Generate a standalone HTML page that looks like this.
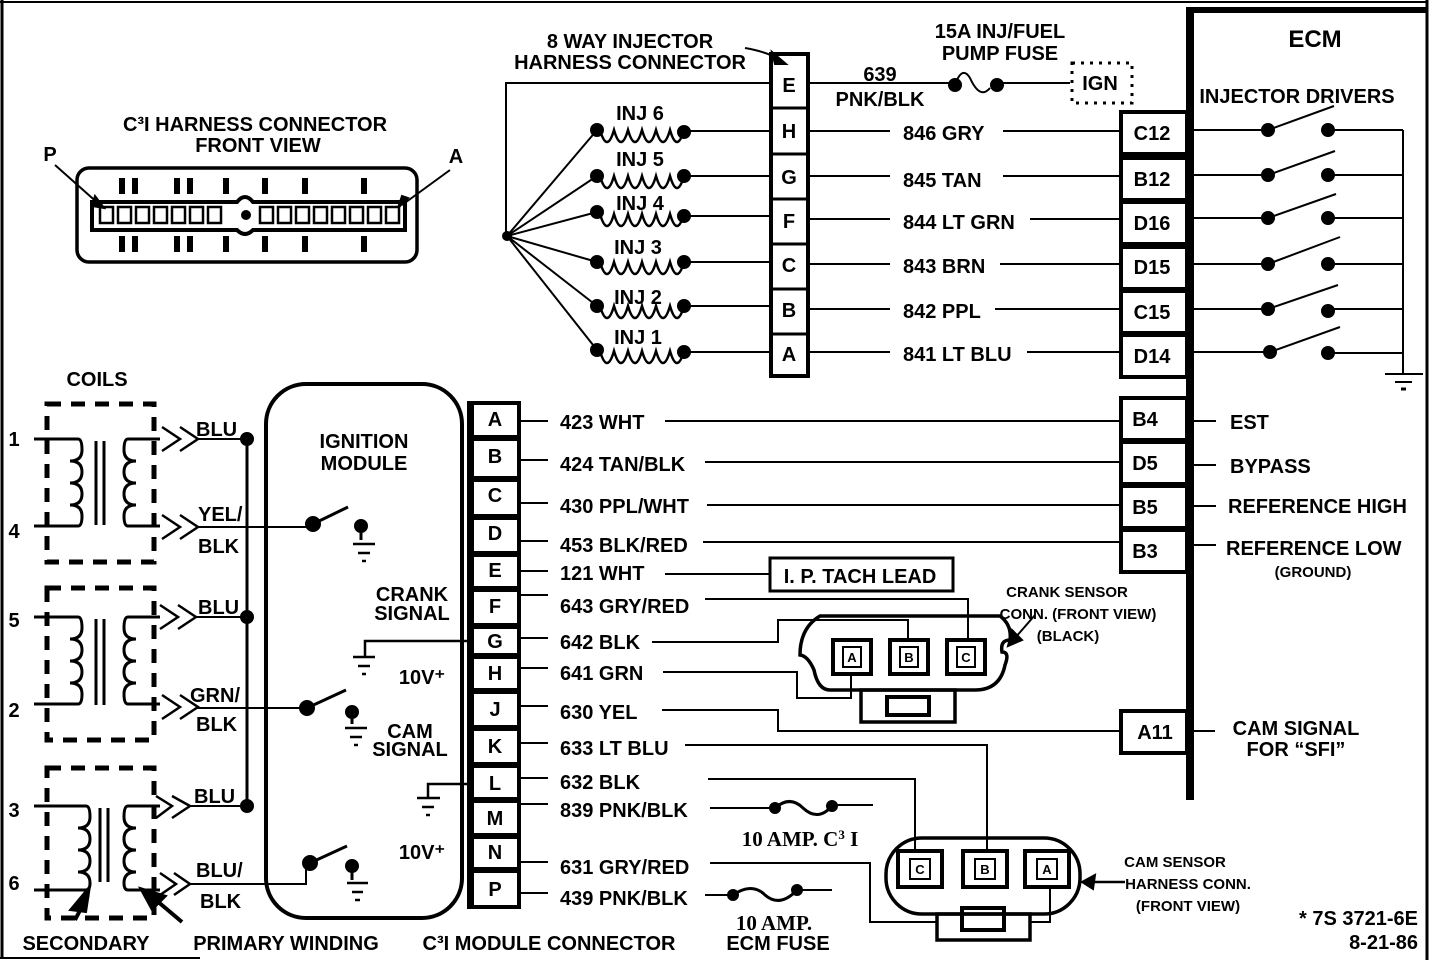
<!DOCTYPE html>
<html><head><meta charset="utf-8"><style>
html,body{margin:0;padding:0;background:#fff}
svg{display:block}
text{font-family:"Liberation Sans Narrow","Liberation Sans",sans-serif;font-weight:bold;fill:#000}
.t{font-size:20px}
.s{font-size:15px}
.c{text-anchor:middle}
.sr{font-family:"Liberation Serif",serif}
</style></head><body>
<svg width="1440" height="960" viewBox="0 0 1440 960" xmlns="http://www.w3.org/2000/svg" stroke="#000" fill="none" stroke-width="2">
<!-- frame -->
<line x1="2" y1="0" x2="2" y2="958" stroke-width="3"/>
<line x1="0" y1="2" x2="1428" y2="2" stroke-width="2"/>
<line x1="1427" y1="0" x2="1427" y2="960" stroke-width="3"/>
<line x1="0" y1="958" x2="200" y2="958" stroke-width="2"/>

<!-- C3I harness connector -->
<g stroke="none">
<text x="255" y="131" class="t c">C³I HARNESS CONNECTOR</text>
<text x="258" y="152" class="t c">FRONT  VIEW</text>
<text x="50" y="161" class="t c">P</text>
<text x="456" y="163" class="t c">A</text>
</g>
<rect x="77" y="168" width="340" height="94" rx="12" stroke-width="3.5"/>
<path d="M92 202 H237 Q245 192 253 202 H405 V230 H253 Q245 238 237 230 H92 Z" stroke-width="4"/>
<g stroke-width="2.5">
<rect x="100" y="207" width="13" height="16"/><rect x="118" y="207" width="13" height="16"/><rect x="136" y="207" width="13" height="16"/><rect x="154" y="207" width="13" height="16"/><rect x="172" y="207" width="13" height="16"/><rect x="190" y="207" width="13" height="16"/><rect x="208" y="207" width="13" height="16"/>
<rect x="260" y="207" width="13" height="16"/><rect x="278" y="207" width="13" height="16"/><rect x="296" y="207" width="13" height="16"/><rect x="314" y="207" width="13" height="16"/><rect x="332" y="207" width="13" height="16"/><rect x="350" y="207" width="13" height="16"/><rect x="368" y="207" width="13" height="16"/><rect x="386" y="207" width="13" height="16"/>
</g>
<circle cx="246" cy="215" r="4" fill="#000"/>
<g stroke-width="6">
<line x1="122" y1="178" x2="122" y2="194"/><line x1="135" y1="178" x2="135" y2="194"/>
<line x1="177" y1="178" x2="177" y2="194"/><line x1="190" y1="178" x2="190" y2="194"/>
<line x1="226" y1="178" x2="226" y2="194"/><line x1="265" y1="178" x2="265" y2="194"/>
<line x1="305" y1="178" x2="305" y2="194"/><line x1="364" y1="178" x2="364" y2="194"/>
<line x1="122" y1="236" x2="122" y2="252"/><line x1="135" y1="236" x2="135" y2="252"/>
<line x1="177" y1="236" x2="177" y2="252"/><line x1="190" y1="236" x2="190" y2="252"/>
<line x1="226" y1="236" x2="226" y2="252"/><line x1="265" y1="236" x2="265" y2="252"/>
<line x1="305" y1="236" x2="305" y2="252"/><line x1="364" y1="236" x2="364" y2="252"/>
</g>
<line x1="55" y1="165" x2="100" y2="205" stroke-width="2"/>
<path d="M95 196 L104 208 L92 206 Z" fill="#000"/>
<line x1="450" y1="170" x2="402" y2="205"/>
<path d="M408 198 L398 208 L402 196 Z" fill="#000"/>

<!-- injector harness -->
<g stroke="none">
<text x="630" y="48" class="t c">8 WAY INJECTOR</text>
<text x="630" y="69" class="t c">HARNESS CONNECTOR</text>
</g>
<path d="M745 48 Q768 52 780 60" stroke-width="2"/>
<path d="M772 52 L786 64 L775 64 Z" fill="#000"/>
<rect x="771" y="54" width="37" height="322" stroke-width="4"/>
<g stroke-width="3">
<line x1="771" y1="108" x2="808" y2="108"/><line x1="771" y1="154" x2="808" y2="154"/>
<line x1="771" y1="199" x2="808" y2="199"/><line x1="771" y1="244" x2="808" y2="244"/>
<line x1="771" y1="289" x2="808" y2="289"/><line x1="771" y1="334" x2="808" y2="334"/>
</g>
<g stroke="none" class="t">
<text x="789" y="92" class="t c">E</text><text x="789" y="138" class="t c">H</text><text x="789" y="184" class="t c">G</text>
<text x="789" y="228" class="t c">F</text><text x="789" y="272" class="t c">C</text><text x="789" y="317" class="t c">B</text><text x="789" y="361" class="t c">A</text>
</g>
<polyline points="770,83 506,83 506,236"/>
<line x1="808" y1="83" x2="953" y2="83"/>
<circle cx="955" cy="85" r="6" fill="#000"/>
<path d="M955 85 Q962 65 970 78 Q980 100 990 88"/>
<circle cx="997" cy="85" r="6" fill="#000"/>
<line x1="997" y1="83" x2="1070" y2="83"/>
<rect x="1072" y="63" width="60" height="40" stroke-dasharray="3 6" stroke-width="3"/>
<g stroke="none">
<text x="880" y="81" class="t c">639</text>
<text x="880" y="106" class="t c">PNK/BLK</text>
<text x="1000" y="38" class="t c">15A INJ/FUEL</text>
<text x="1000" y="60" class="t c">PUMP FUSE</text>
<text x="1100" y="90" class="t c">IGN</text>
</g>

<!-- injector rows -->
<g>
<line x1="507" y1="236" x2="597" y2="130"/><line x1="507" y1="236" x2="597" y2="176"/><line x1="507" y1="236" x2="597" y2="212"/>
<line x1="507" y1="236" x2="597" y2="262"/><line x1="507" y1="236" x2="597" y2="306"/><line x1="507" y1="236" x2="597" y2="350"/>
</g>
<g fill="#000">
<circle cx="597" cy="130" r="6"/><circle cx="684" cy="132" r="6"/>
<circle cx="597" cy="176" r="6"/><circle cx="684" cy="176" r="6"/>
<circle cx="597" cy="212" r="6"/><circle cx="684" cy="216" r="6"/>
<circle cx="597" cy="262" r="6"/><circle cx="684" cy="262" r="6"/>
<circle cx="597" cy="306" r="6"/><circle cx="684" cy="306" r="6"/>
<circle cx="597" cy="350" r="6"/><circle cx="684" cy="352" r="6"/>
<circle cx="507" cy="236" r="4"/>
</g>
<g stroke-width="2.5">
<path d="M600 130 q7 24 14 0 q7 24 14 0 q7 24 14 0 q7 24 14 0 q7 24 14 0 q7 24 14 0"/>
<path d="M600 176 q7 24 14 0 q7 24 14 0 q7 24 14 0 q7 24 14 0 q7 24 14 0 q7 24 14 0"/>
<path d="M600 214 q7 24 14 0 q7 24 14 0 q7 24 14 0 q7 24 14 0 q7 24 14 0 q7 24 14 0"/>
<path d="M600 262 q7 24 14 0 q7 24 14 0 q7 24 14 0 q7 24 14 0 q7 24 14 0 q7 24 14 0"/>
<path d="M600 306 q7 24 14 0 q7 24 14 0 q7 24 14 0 q7 24 14 0 q7 24 14 0 q7 24 14 0"/>
<path d="M600 351 q7 24 14 0 q7 24 14 0 q7 24 14 0 q7 24 14 0 q7 24 14 0 q7 24 14 0"/>
</g>
<g>
<line x1="684" y1="131" x2="771" y2="131"/><line x1="684" y1="176" x2="771" y2="176"/><line x1="684" y1="216" x2="771" y2="216"/>
<line x1="684" y1="262" x2="771" y2="262"/><line x1="684" y1="306" x2="771" y2="306"/><line x1="684" y1="352" x2="771" y2="352"/>
<line x1="808" y1="131" x2="890" y2="131"/><line x1="1003" y1="131" x2="1120" y2="131"/>
<line x1="808" y1="176" x2="890" y2="176"/><line x1="1003" y1="176" x2="1120" y2="176"/>
<line x1="808" y1="219" x2="890" y2="219"/><line x1="1030" y1="219" x2="1120" y2="219"/>
<line x1="808" y1="264" x2="890" y2="264"/><line x1="1000" y1="264" x2="1120" y2="264"/>
<line x1="808" y1="309" x2="890" y2="309"/><line x1="995" y1="309" x2="1120" y2="309"/>
<line x1="808" y1="352" x2="890" y2="352"/><line x1="1027" y1="352" x2="1120" y2="352"/>
</g>
<g stroke="none">
<text x="640" y="120" class="t c">INJ 6</text><text x="640" y="166" class="t c">INJ 5</text><text x="640" y="210" class="t c">INJ 4</text>
<text x="638" y="254" class="t c">INJ 3</text><text x="638" y="304" class="t c">INJ 2</text><text x="638" y="344" class="t c">INJ 1</text>
<text x="903" y="140" class="t">846 GRY</text><text x="903" y="187" class="t">845 TAN</text><text x="903" y="229" class="t">844 LT GRN</text>
<text x="903" y="273" class="t">843 BRN</text><text x="903" y="318" class="t">842 PPL</text><text x="903" y="361" class="t">841 LT BLU</text>
</g>

<!-- ECM -->
<line x1="1190" y1="10" x2="1190" y2="800" stroke-width="8"/>
<line x1="1186" y1="10" x2="1427" y2="10" stroke-width="6"/>
<g stroke="none">
<text x="1315" y="47" class="t c" style="font-size:24px">ECM</text>
<text x="1297" y="103" class="t c">INJECTOR DRIVERS</text>
</g>
<g stroke-width="4">
<rect x="1121" y="112" width="66" height="42"/><rect x="1121" y="158" width="66" height="42"/><rect x="1121" y="202" width="66" height="42"/>
<rect x="1121" y="247" width="66" height="42"/><rect x="1121" y="291" width="66" height="42"/><rect x="1121" y="335" width="66" height="42"/>
<rect x="1121" y="398" width="66" height="42"/><rect x="1121" y="442" width="66" height="42"/><rect x="1121" y="486" width="66" height="42"/><rect x="1121" y="530" width="66" height="42"/>
<rect x="1121" y="711" width="66" height="42"/>
</g>
<g stroke="none">
<text x="1152" y="140" class="t c">C12</text><text x="1152" y="186" class="t c">B12</text><text x="1152" y="230" class="t c">D16</text>
<text x="1152" y="274" class="t c">D15</text><text x="1152" y="319" class="t c">C15</text><text x="1152" y="363" class="t c">D14</text>
<text x="1145" y="426" class="t c">B4</text><text x="1145" y="470" class="t c">D5</text><text x="1145" y="514" class="t c">B5</text><text x="1145" y="558" class="t c">B3</text>
<text x="1155" y="739" class="t c">A11</text>
<text x="1230" y="429" class="t">EST</text><text x="1230" y="473" class="t">BYPASS</text>
<text x="1228" y="513" class="t">REFERENCE HIGH</text><text x="1226" y="555" class="t">REFERENCE LOW</text>
<text x="1313" y="577" class="s c">(GROUND)</text>
<text x="1296" y="735" class="t c">CAM SIGNAL</text><text x="1296" y="756" class="t c">FOR “SFI”</text>
</g>
<g>
<line x1="1193" y1="421" x2="1216" y2="421"/><line x1="1193" y1="465" x2="1216" y2="465"/>
<line x1="1193" y1="506" x2="1216" y2="506"/><line x1="1193" y1="545" x2="1216" y2="545"/>
<line x1="1193" y1="731" x2="1215" y2="731"/>
</g>
<g>
<line x1="1193" y1="130" x2="1268" y2="130"/><line x1="1268" y1="130" x2="1334" y2="106"/><line x1="1328" y1="130" x2="1403" y2="130"/>
<line x1="1193" y1="175" x2="1268" y2="175"/><line x1="1268" y1="175" x2="1335" y2="151"/><line x1="1328" y1="175" x2="1403" y2="175"/>
<line x1="1193" y1="218" x2="1268" y2="218"/><line x1="1268" y1="218" x2="1336" y2="194"/><line x1="1328" y1="218" x2="1403" y2="218"/>
<line x1="1193" y1="264" x2="1268" y2="264"/><line x1="1268" y1="264" x2="1340" y2="237"/><line x1="1328" y1="264" x2="1403" y2="264"/>
<line x1="1193" y1="309" x2="1268" y2="309"/><line x1="1268" y1="309" x2="1338" y2="285"/><line x1="1328" y1="309" x2="1403" y2="309"/>
<line x1="1193" y1="352" x2="1270" y2="352"/><line x1="1270" y1="352" x2="1340" y2="327"/><line x1="1328" y1="353" x2="1403" y2="353"/>
<line x1="1403" y1="130" x2="1403" y2="373"/>
<line x1="1385" y1="374" x2="1423" y2="374"/><line x1="1395" y1="382" x2="1412" y2="382"/><line x1="1401" y1="389" x2="1406" y2="389" stroke-width="3"/>
</g>
<g fill="#000">
<circle cx="1268" cy="130" r="6"/><circle cx="1328" cy="130" r="6"/>
<circle cx="1268" cy="175" r="6"/><circle cx="1328" cy="175" r="6"/>
<circle cx="1268" cy="218" r="6"/><circle cx="1328" cy="218" r="6"/>
<circle cx="1268" cy="264" r="6"/><circle cx="1328" cy="264" r="6"/>
<circle cx="1268" cy="309" r="6"/><circle cx="1328" cy="311" r="6"/>
<circle cx="1270" cy="352" r="6"/><circle cx="1328" cy="353" r="6"/>
</g>

<!-- coils -->
<g stroke="none">
<text x="97" y="386" class="t c">COILS</text>
<text x="14" y="446" class="t c">1</text><text x="14" y="538" class="t c">4</text>
<text x="14" y="627" class="t c">5</text><text x="14" y="717" class="t c">2</text>
<text x="14" y="817" class="t c">3</text><text x="14" y="890" class="t c">6</text>
</g>
<g stroke-width="5" stroke-dasharray="14 10">
<rect x="47" y="404" width="107" height="158"/>
<rect x="47" y="588" width="107" height="152"/>
<rect x="47" y="768" width="107" height="150"/>
</g>
<g stroke-width="3">
<path d="M34 439 H78 q4 0 4 11 q0 11 -12 11 q12 0 12 11 q0 11 -12 11 q12 0 12 11 q0 11 -12 11 q12 0 12 11 q0 10 -4 10 H34"/>
<path d="M160 439 H128 q-4 0 -4 11 q0 11 12 11 q-12 0 -12 11 q0 11 12 11 q-12 0 -12 11 q0 11 12 11 q-12 0 -12 11 q0 10 4 10 H160"/>
<line x1="96" y1="441" x2="96" y2="525"/><line x1="104" y1="441" x2="104" y2="525"/>
<path d="M34 617 H78 q4 0 4 11 q0 11 -12 11 q12 0 12 11 q0 11 -12 11 q12 0 12 11 q0 11 -12 11 q12 0 12 11 q0 10 -4 10 H34"/>
<path d="M160 617 H128 q-4 0 -4 11 q0 11 12 11 q-12 0 -12 11 q0 11 12 11 q-12 0 -12 11 q0 11 12 11 q-12 0 -12 11 q0 10 4 10 H160"/>
<line x1="96" y1="619" x2="96" y2="705"/><line x1="104" y1="619" x2="104" y2="705"/>
<path d="M34 806 H86 q4 0 4 11 q0 11 -12 11 q12 0 12 11 q0 11 -12 11 q12 0 12 11 q0 11 -12 11 q12 0 12 11 q0 7 -4 7 H34"/>
<path d="M160 806 H128 q-4 0 -4 11 q0 11 12 11 q-12 0 -12 11 q0 11 12 11 q-12 0 -12 11 q0 11 12 11 q-12 0 -12 11 q0 7 4 7 H160"/>
<line x1="100" y1="808" x2="100" y2="882"/><line x1="108" y1="808" x2="108" y2="882"/>
</g>
<g stroke-width="2.5">
<polyline points="162,427 180,439 162,451"/><polyline points="180,427 198,439 180,451"/>
<polyline points="162,515 180,527 162,539"/><polyline points="180,515 198,527 180,539"/>
<polyline points="160,605 178,617 160,629"/><polyline points="178,605 196,617 178,629"/>
<polyline points="162,695 180,707 162,719"/><polyline points="180,695 198,707 180,719"/>
<polyline points="156,796 172,806 156,818"/><polyline points="172,796 190,806 172,818"/>
<polyline points="160,873 176,884 160,895"/><polyline points="174,873 190,884 174,895"/>
</g>
<g>
<line x1="196" y1="439" x2="247" y2="439"/><line x1="196" y1="617" x2="247" y2="617"/><line x1="190" y1="806" x2="247" y2="806"/>
<line x1="247" y1="439" x2="247" y2="806" stroke-width="3"/>
<line x1="196" y1="527" x2="313" y2="527"/>
<line x1="196" y1="708" x2="307" y2="708"/>
<polyline points="190,884 306,884 306,866"/>
</g>
<g fill="#000"><circle cx="247" cy="439" r="6"/><circle cx="247" cy="617" r="6"/><circle cx="247" cy="806" r="6"/></g>
<g stroke="none">
<text x="196" y="436" class="t">BLU</text><text x="198" y="521" class="t">YEL/</text><text x="198" y="553" class="t">BLK</text>
<text x="198" y="614" class="t">BLU</text><text x="190" y="702" class="t">GRN/</text><text x="196" y="731" class="t">BLK</text>
<text x="194" y="803" class="t">BLU</text><text x="196" y="877" class="t">BLU/</text><text x="200" y="908" class="t">BLK</text>
<text x="86" y="950" class="t c">SECONDARY</text>
<text x="286" y="950" class="t c">PRIMARY WINDING</text>
<text x="549" y="950" class="t c">C³I MODULE CONNECTOR</text>
</g>
<line x1="75" y1="920" x2="88" y2="895" stroke-width="4"/>
<path d="M70 910 L90 886 L86 912 Z" fill="#000"/>
<line x1="182" y1="922" x2="150" y2="895" stroke-width="4"/>
<path d="M140 888 L166 896 L152 910 Z" fill="#000"/>

<!-- ignition module -->
<rect x="266" y="384" width="196" height="534" rx="40" stroke-width="4"/>
<g stroke="none">
<text x="364" y="448" class="t c">IGNITION</text><text x="364" y="470" class="t c">MODULE</text>
<text x="412" y="601" class="t c">CRANK</text><text x="412" y="620" class="t c">SIGNAL</text>
<text x="422" y="684" class="t c">10V⁺</text>
<text x="410" y="738" class="t c">CAM</text><text x="410" y="756" class="t c">SIGNAL</text>
<text x="422" y="859" class="t c">10V⁺</text>
</g>
<g fill="#000">
<circle cx="313" cy="524" r="7"/><circle cx="361" cy="526" r="6"/>
<circle cx="307" cy="708" r="7"/><circle cx="352" cy="712" r="6"/>
<circle cx="310" cy="863" r="7"/><circle cx="352" cy="866" r="6"/>
</g>
<g stroke-width="3">
<line x1="313" y1="524" x2="348" y2="507"/><line x1="361" y1="528" x2="361" y2="540"/>
<line x1="307" y1="708" x2="346" y2="690"/><line x1="352" y1="714" x2="352" y2="724"/>
<line x1="310" y1="863" x2="347" y2="846"/><line x1="352" y1="868" x2="352" y2="880"/>
</g>
<g stroke-width="2.5">
<line x1="353" y1="544" x2="375" y2="544"/><line x1="358" y1="553" x2="370" y2="553"/><line x1="362" y1="561" x2="366" y2="561"/>
<line x1="345" y1="728" x2="367" y2="728"/><line x1="350" y1="737" x2="362" y2="737"/><line x1="354" y1="745" x2="358" y2="745"/>
<line x1="347" y1="883" x2="368" y2="883"/><line x1="352" y1="892" x2="363" y2="892"/><line x1="355" y1="900" x2="360" y2="900"/>
<polyline points="470,641 365,641 365,656"/>
<line x1="353" y1="657" x2="375" y2="657"/><line x1="358" y1="666" x2="370" y2="666"/><line x1="362" y1="674" x2="366" y2="674"/>
<polyline points="470,784 428,784 428,797"/>
<line x1="417" y1="798" x2="440" y2="798"/><line x1="422" y1="807" x2="434" y2="807"/><line x1="426" y1="815" x2="430" y2="815"/>
</g>

<!-- C3I module connector -->
<line x1="469" y1="401" x2="469" y2="909" stroke-width="4"/>
<g stroke-width="4">
<rect x="472" y="403" width="47" height="34"/><rect x="472" y="439" width="47" height="39"/><rect x="472" y="480" width="47" height="36"/>
<rect x="472" y="518" width="47" height="35"/><rect x="472" y="555" width="47" height="33"/><rect x="472" y="590" width="47" height="35"/>
<rect x="472" y="627" width="47" height="28"/><rect x="472" y="657" width="47" height="33"/><rect x="472" y="692" width="47" height="35"/>
<rect x="472" y="729" width="47" height="35"/><rect x="472" y="766" width="47" height="33"/><rect x="472" y="801" width="47" height="34"/>
<rect x="472" y="837" width="47" height="32"/><rect x="472" y="871" width="47" height="36"/>
</g>
<g stroke="none">
<text x="495" y="426" class="t c">A</text><text x="495" y="463" class="t c">B</text><text x="495" y="502" class="t c">C</text>
<text x="495" y="540" class="t c">D</text><text x="495" y="577" class="t c">E</text><text x="495" y="613" class="t c">F</text>
<text x="495" y="648" class="t c">G</text><text x="495" y="680" class="t c">H</text><text x="495" y="716" class="t c">J</text>
<text x="495" y="753" class="t c">K</text><text x="495" y="790" class="t c">L</text><text x="495" y="825" class="t c">M</text>
<text x="495" y="859" class="t c">N</text><text x="495" y="896" class="t c">P</text>
<text x="560" y="429" class="t">423 WHT</text><text x="560" y="471" class="t">424 TAN/BLK</text><text x="560" y="513" class="t">430 PPL/WHT</text>
<text x="560" y="552" class="t">453 BLK/RED</text><text x="560" y="580" class="t">121 WHT</text><text x="560" y="613" class="t">643 GRY/RED</text>
<text x="560" y="649" class="t">642 BLK</text><text x="560" y="680" class="t">641 GRN</text><text x="560" y="719" class="t">630 YEL</text>
<text x="560" y="755" class="t">633 LT BLU</text><text x="560" y="789" class="t">632 BLK</text><text x="560" y="817" class="t">839 PNK/BLK</text>
<text x="560" y="874" class="t">631 GRY/RED</text><text x="560" y="905" class="t">439 PNK/BLK</text>
</g>
<g>
<line x1="519" y1="421" x2="548" y2="421"/><line x1="519" y1="460" x2="548" y2="460"/><line x1="519" y1="503" x2="548" y2="503"/>
<line x1="519" y1="541" x2="548" y2="541"/><line x1="519" y1="571" x2="548" y2="571"/><line x1="519" y1="595" x2="548" y2="595"/>
<line x1="519" y1="638" x2="548" y2="638"/><line x1="519" y1="668" x2="548" y2="668"/><line x1="519" y1="706" x2="548" y2="706"/>
<line x1="519" y1="743" x2="548" y2="743"/><line x1="519" y1="778" x2="548" y2="778"/><line x1="519" y1="804" x2="548" y2="804"/>
<line x1="519" y1="862" x2="548" y2="862"/><line x1="519" y1="893" x2="548" y2="893"/>
<line x1="665" y1="421" x2="1121" y2="421"/>
<line x1="705" y1="462" x2="1121" y2="462"/>
<line x1="707" y1="505" x2="1121" y2="505"/>
<line x1="703" y1="542" x2="1121" y2="542"/>
<line x1="665" y1="574" x2="770" y2="574"/>
<polyline points="705,599 968,599 968,640"/>
<polyline points="652,642 778,642 778,620 908,620 908,640"/>
<polyline points="663,672 797,672 797,698 851,698 851,676"/>
<polyline points="662,710 778,710 778,731 1121,731"/>
<polyline points="685,745 987,745 987,851"/>
<polyline points="708,779 915,779 915,851"/>
<line x1="710" y1="808" x2="772" y2="808"/>
<line x1="833" y1="805" x2="873" y2="805"/>
<polyline points="710,863 870,863 870,922 937,922"/>
<line x1="705" y1="895" x2="732" y2="895"/>
<line x1="797" y1="890" x2="832" y2="890"/>
</g>
<g fill="#000"><circle cx="775" cy="808" r="5"/><circle cx="832" cy="806" r="5"/><circle cx="733" cy="895" r="5"/><circle cx="797" cy="890" r="5"/></g>
<path d="M775 808 Q790 795 803 808 Q818 822 832 806" stroke-width="3"/>
<path d="M733 895 Q752 882 765 895 Q780 908 797 890" stroke-width="3"/>
<g stroke="none">
<text x="800" y="846" class="t c sr" style="font-size:21px">10 AMP. C<tspan style="font-size:13px" dy="-7">3</tspan><tspan dy="7"> I</tspan></text>
<text x="774" y="930" class="t c sr" style="font-size:21px">10 AMP.</text>
<text x="778" y="950" class="t c">ECM FUSE</text>
</g>

<!-- I.P. tach -->
<rect x="770" y="558" width="183" height="33" stroke-width="3"/>
<text x="860" y="583" class="t c" stroke="none">I. P. TACH LEAD</text>

<!-- crank sensor connector -->
<path d="M820 616 H1000 Q1012 625 1010 640 Q1000 640 1002 652 Q1010 652 1005 665 Q1000 690 975 690 H830 Q818 690 814 670 Q808 656 800 655 Q800 628 820 616 Z" stroke-width="3.5"/>
<g stroke-width="4">
<rect x="833" y="640" width="38" height="34"/><rect x="890" y="640" width="38" height="34"/><rect x="947" y="640" width="38" height="34"/>
</g>
<g stroke-width="2"><rect x="843" y="647" width="18" height="20"/><rect x="900" y="647" width="18" height="20"/><rect x="957" y="647" width="18" height="20"/></g>
<g stroke="none">
<text x="852" y="662" class="c" style="font-size:13px">A</text><text x="909" y="662" class="c" style="font-size:13px">B</text><text x="966" y="662" class="c" style="font-size:13px">C</text>
</g>
<rect x="861" y="690" width="94" height="32" stroke-width="3.5"/>
<rect x="887" y="697" width="42" height="18" stroke-width="4"/>
<g stroke="none">
<text x="1067" y="597" class="s c">CRANK SENSOR</text>
<text x="1078" y="619" class="s c">CONN. (FRONT VIEW)</text>
<text x="1068" y="641" class="s c">(BLACK)</text>
</g>
<line x1="1035" y1="615" x2="1015" y2="638"/>
<path d="M1008 646 L1012 630 L1022 640 Z" fill="#000"/>

<!-- cam sensor connector -->
<rect x="886" y="838" width="194" height="76" rx="36" stroke-width="3.5"/>
<g stroke-width="4">
<rect x="898" y="851" width="44" height="36"/><rect x="963" y="851" width="44" height="36"/><rect x="1025" y="851" width="44" height="36"/>
</g>
<g stroke-width="2"><rect x="910" y="859" width="20" height="20"/><rect x="975" y="859" width="20" height="20"/><rect x="1037" y="859" width="20" height="20"/></g>
<g stroke="none">
<text x="920" y="874" class="c" style="font-size:13px">C</text><text x="985" y="874" class="c" style="font-size:13px">B</text><text x="1047" y="874" class="c" style="font-size:13px">A</text>
</g>
<rect x="937" y="914" width="93" height="26" stroke-width="3.5"/>
<rect x="962" y="908" width="42" height="22" stroke-width="4"/>
<polyline points="1050,887 1050,922 1030,922"/>
<line x1="1125" y1="882" x2="1090" y2="882" stroke-width="2.5"/>
<path d="M1082 882 L1095 875 L1093 889 Z" fill="#000"/>
<g stroke="none">
<text x="1175" y="867" class="s c">CAM SENSOR</text>
<text x="1188" y="889" class="s c">HARNESS CONN.</text>
<text x="1188" y="911" class="s c">(FRONT VIEW)</text>
<text x="1418" y="925" class="t" text-anchor="end">* 7S 3721-6E</text>
<text x="1418" y="949" class="t" text-anchor="end">8-21-86</text>
</g>
</svg>
</body></html>
